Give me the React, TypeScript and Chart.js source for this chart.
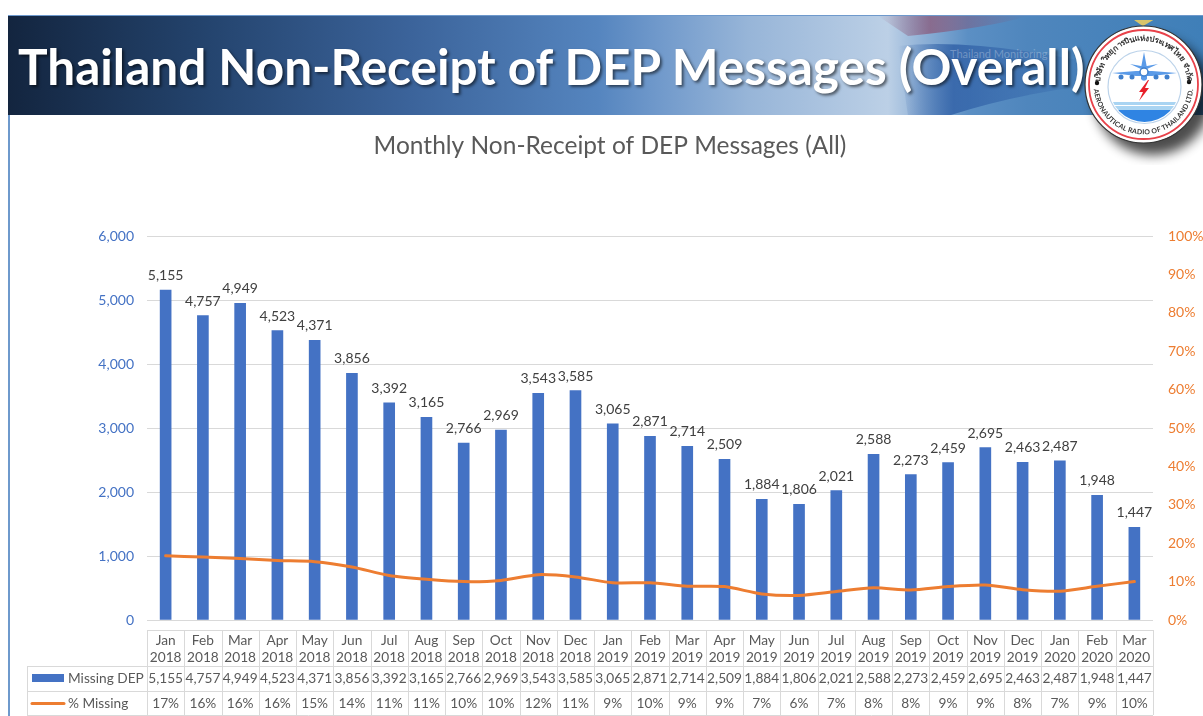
import React, { useEffect, useRef } from "react";
import { Chart, registerables } from "chart.js";

Chart.register(...registerables);

const months = ["Jan","Feb","Mar","Apr","May","Jun","Jul","Aug","Sep","Oct","Nov","Dec","Jan","Feb","Mar","Apr","May","Jun","Jul","Aug","Sep","Oct","Nov","Dec","Jan","Feb","Mar"];
const years = ["2018","2018","2018","2018","2018","2018","2018","2018","2018","2018","2018","2018","2019","2019","2019","2019","2019","2019","2019","2019","2019","2019","2019","2019","2020","2020","2020"];
const missingDep = [5155,4757,4949,4523,4371,3856,3392,3165,2766,2969,3543,3585,3065,2871,2714,2509,1884,1806,2021,2588,2273,2459,2695,2463,2487,1948,1447];
const pctMissing = [0.167,0.164,0.16,0.155,0.152,0.138,0.116,0.106,0.1,0.103,0.118,0.112,0.097,0.097,0.088,0.087,0.068,0.064,0.074,0.084,0.078,0.087,0.091,0.079,0.075,0.088,0.1];
const pctLabels = ["17%","16%","16%","16%","15%","14%","11%","11%","10%","10%","12%","11%","9%","10%","9%","9%","7%","6%","7%","8%","8%","9%","9%","8%","7%","9%","10%"];

const FONT = "Lato, 'Open Sans', sans-serif";
const BLUE = "#4472C4";
const ORANGE = "#ED7D31";
const GRID = "#D9D9D9";
const TEXT = "#595959";

const labelsAndTable = {
  id: "labelsAndTable",
  afterDraw(chart: any) {
    const { ctx, scales } = chart;
    const x = scales.x;
    const y = scales.y;
    const left = chart.chartArea.left;
    const right = chart.chartArea.right;
    const step = (right - left) / months.length;
    ctx.save();

    // value labels above bars
    ctx.font = `14px ${FONT}`;
    ctx.fillStyle = "#404040";
    ctx.textAlign = "center";
    ctx.textBaseline = "alphabetic";
    missingDep.forEach((v, i) => {
      ctx.fillText(v.toLocaleString("en-US"), x.getPixelForValue(i), y.getPixelForValue(v) - 10);
    });

    // data table
    const rowTop = chart.chartArea.bottom + 10;
    const row1 = rowTop + 36;
    const row2 = row1 + 25;
    const row3 = row2 + 24;
    const tableLeft = 27;
    ctx.strokeStyle = GRID;
    ctx.lineWidth = 1;
    ctx.beginPath();
    ctx.moveTo(left, rowTop + 0.5);
    ctx.lineTo(right, rowTop + 0.5);
    [row1, row2, row3].forEach((r) => {
      ctx.moveTo(tableLeft, r + 0.5);
      ctx.lineTo(right, r + 0.5);
    });
    ctx.moveTo(tableLeft + 0.5, row1);
    ctx.lineTo(tableLeft + 0.5, row3);
    for (let i = 0; i <= months.length; i++) {
      const px = Math.round(left + i * step) + 0.5;
      ctx.moveTo(px, rowTop);
      ctx.lineTo(px, row3);
    }
    ctx.stroke();

    ctx.fillStyle = TEXT;
    ctx.font = `13.7px ${FONT}`;
    ctx.textAlign = "center";
    months.forEach((m, i) => {
      const cx = x.getPixelForValue(i);
      ctx.fillText(m, cx, rowTop + 15);
      ctx.fillText(years[i], cx, rowTop + 32);
      ctx.fillText(missingDep[i].toLocaleString("en-US"), cx, row1 + 17);
      ctx.fillText(pctLabels[i], cx, row2 + 17);
    });

    ctx.textAlign = "left";
    ctx.fillText("Missing DEP", 68, row1 + 17);
    ctx.fillText("% Missing", 68, row2 + 17);
    ctx.fillStyle = BLUE;
    ctx.fillRect(32, row1 + 8, 32, 8);
    ctx.strokeStyle = ORANGE;
    ctx.lineWidth = 3;
    ctx.lineCap = "round";
    ctx.beginPath();
    ctx.moveTo(32, row2 + 12.5);
    ctx.lineTo(64, row2 + 12.5);
    ctx.stroke();
    ctx.restore();
  },
};

function Logo() {
  return (
    <svg width={123} height={145} viewBox="1080 20 123 145" style={{ position: "absolute", left: 1080, top: 20, overflow: "hidden" }}>
      <defs>
        <filter id="sh" x="-40%" y="-40%" width="180%" height="180%">
          <feGaussianBlur stdDeviation="6" />
        </filter>
        <clipPath id="inner"><circle cx={1144.5} cy={87} r={35} /></clipPath>
        <path id="topArc" d="M 1099.7 84.5 A 43.8 43.8 0 0 1 1187.3 84.5" />
        <path id="botArc" d="M 1094.2 76 A 50 50 0 1 0 1192.8 76" />
      </defs>
      <circle cx={1153} cy={96} r={59} fill="#000" opacity={0.7} filter="url(#sh)" />
      <path d="M1143 26 Q1135 21 1133 19 L1155 19 Q1150 22 1143 26 Z" fill="#D8C46A" />
      <circle cx={1143.5} cy={84.5} r={58.5} fill="#fff" stroke="#333" strokeWidth={1.2} />
      <circle cx={1143.5} cy={84.5} r={54.5} fill="none" stroke="#E8424A" strokeWidth={1.8} />
      <circle cx={1144.5} cy={87} r={36.5} fill="#fff" stroke="#bcd3ea" strokeWidth={1.2} />
      <circle cx={1097} cy={83} r={2.2} fill="#111" />
      <circle cx={1189} cy={82} r={2.2} fill="#111" />
      <text fontFamily="'Noto Sans', 'DejaVu Sans', sans-serif" fontSize={8} fontWeight={700} fill="#333" textAnchor="middle">
        <textPath href="#topArc" startOffset="50%">บริษัท วิทยุการบินแห่งประเทศไทย จำกัด</textPath>
      </text>
      <text fontFamily="Lato, sans-serif" fontSize={6.9} fontWeight={700} fill="#333" textAnchor="middle" letterSpacing={0.2}>
        <textPath href="#botArc" startOffset="50%">AERONAUTICAL RADIO OF THAILAND LTD.</textPath>
      </text>
      <g clipPath="url(#inner)">
        <rect x={1105} y={102} width={80} height={3} fill="#A9D4F2" />
        <rect x={1105} y={106} width={80} height={4} fill="#A9D4F2" />
        <rect x={1105} y={110} width={80} height={14} fill="#2F84E3" />
      </g>
      <path d="M1112 73 L1136 71 L1152 71 L1177 73 L1152 76 L1136 76 Z" fill="#5B9BE8" />
      <path d="M1130 64 L1141 66 L1147 66 L1158 64 L1147 69 L1141 69 Z" fill="#5B9BE8" />
      <path d="M1144 52 L1147 68 L1147 79 A3.5 3.5 0 0 1 1141 79 L1141 68 Z" fill="#5B9BE8" />
      <circle cx={1144} cy={72} r={4} fill="#fff" stroke="#3F7FCC" strokeWidth={1.5} />
      {[1121, 1132, 1156, 1167].map((cx) => (
        <circle key={cx} cx={cx} cy={77} r={2.5} fill="#3F7FCC" />
      ))}
      <path d="M1148 80 L1139 92 L1143 92 L1139 101 L1149 88 L1145 88 L1149 80 Z" fill="#E8202A" />
    </svg>
  );
}

function Header() {
  return (
    <div
      style={{
        position: "absolute",
        left: 8,
        top: 15,
        width: 1195,
        height: 100,
        overflow: "hidden",
        borderTop: "1.5px solid #6E99CC",
        boxSizing: "border-box",
        background:
          "linear-gradient(90deg,#13253f 0px,#24446e 200px,#3b639a 400px,#5585bf 590px,#7099cb 650px,#97b5d8 740px,#b4cae3 850px,#bcd0e6 880px,#8eb0d6 915px,#5b8fc4 960px,#4f86bd 1020px,#3f7fb8 1195px)",
      }}
    >
      <svg width={1195} height={100} style={{ position: "absolute", left: 0, top: 0 }}>
        <defs>
          <linearGradient id="maroon" x1="0" x2="1" y1="0" y2="0">
            <stop offset="0" stopColor="#8a4a6a" stopOpacity={0} />
            <stop offset="0.35" stopColor="#8a4a6a" stopOpacity={0.65} />
            <stop offset="1" stopColor="#8a4a6a" stopOpacity={0} />
          </linearGradient>
          <linearGradient id="band" x1="0" x2="1" y1="0" y2="0">
            <stop offset="0" stopColor="#2e5ea5" stopOpacity={0} />
            <stop offset="0.3" stopColor="#2e5ea5" stopOpacity={0.8} />
            <stop offset="1" stopColor="#2e5ea5" stopOpacity={0.1} />
          </linearGradient>
        </defs>
        <path d="M870 0 L1020 0 Q980 12 900 20 Z" fill="url(#maroon)" />
        <path d="M890 30 Q960 22 1075 45 L1075 70 Q1000 80 940 100 L900 100 Z" fill="url(#band)" />
      </svg>
      <div
        style={{
          position: "absolute",
          left: 942,
          top: 30,
          fontFamily: FONT,
          fontSize: 11,
          lineHeight: "15px",
          color: "rgba(255,255,255,0.28)",
          whiteSpace: "nowrap",
        }}
      >
        Thailand Monitoring
      </div>
      <div
        style={{
          position: "absolute",
          left: 10,
          top: 17,
          fontFamily: FONT,
          fontSize: 49.5,
          fontWeight: 700,
          lineHeight: "66px",
          color: "#fff",
          whiteSpace: "nowrap",
          textShadow: "2px 2px 3px rgba(0,0,0,0.55)",
        }}
      >
        Thailand Non-Receipt of DEP Messages (Overall)
      </div>
    </div>
  );
}

export default function App() {
  const ref = useRef<HTMLCanvasElement>(null);
  useEffect(() => {
    document.body.style.margin = "0";
    const chart = new Chart(ref.current!, {
      type: "bar",
      data: {
        labels: months.map((m, i) => `${m} ${years[i]}`),
        datasets: [
          {
            type: "line",
            label: "% Missing",
            data: pctMissing,
            yAxisID: "y1",
            borderColor: ORANGE,
            backgroundColor: ORANGE,
            borderWidth: 3,
            pointRadius: 0,
            tension: 0.25,
            borderCapStyle: "round",
            order: 0,
          },
          {
            type: "bar",
            label: "Missing DEP",
            data: missingDep,
            yAxisID: "y",
            backgroundColor: BLUE,
            barThickness: 11,
            order: 1,
          },
        ],
      } as any,
      options: {
        responsive: false,
        animation: false,
        layout: { padding: { left: 17, right: 0, top: 0, bottom: 96 } },
        plugins: {
          legend: { display: false },
          tooltip: { enabled: false },
          title: {
            display: true,
            text: "Monthly Non-Receipt of DEP Messages (All)",
            color: TEXT,
            font: { family: FONT, size: 24.5, weight: "normal", lineHeight: 1 },
            padding: { top: 134, bottom: 77.5 },
          },
        },
        scales: {
          x: { display: false, offset: true, grid: { display: false } },
          y: {
            position: "left",
            min: 0,
            max: 6000,
            afterFit: (a: any) => { a.width = 130; },
            border: { display: false },
            grid: { color: GRID, drawTicks: false },
            ticks: {
              stepSize: 1000,
              color: BLUE,
              padding: 13,
              font: { family: FONT, size: 14 },
              callback: (v: any) => Number(v).toLocaleString("en-US"),
            },
          },
          y1: {
            position: "right",
            min: 0,
            max: 1,
            afterFit: (a: any) => { a.width = 50; },
            border: { display: false },
            grid: { display: false, drawTicks: false },
            ticks: {
              stepSize: 0.1,
              color: ORANGE,
              padding: 15,
              font: { family: FONT, size: 14 },
              callback: (v: any) => `${Math.round(Number(v) * 100)}%`,
            },
          },
        },
      },
      plugins: [labelsAndTable],
    } as any);
    return () => chart.destroy();
  }, []);

  return (
    <div style={{ position: "relative", width: 1203, height: 716, overflow: "hidden", background: "#fff" }}>
      <canvas ref={ref} width={1203} height={716} style={{ position: "absolute", left: 0, top: 0 }} />
      <div style={{ position: "absolute", left: 8, top: 15, width: 2, height: 701, background: "#6E99CC" }} />
      <Header />
      <Logo />
    </div>
  );
}
